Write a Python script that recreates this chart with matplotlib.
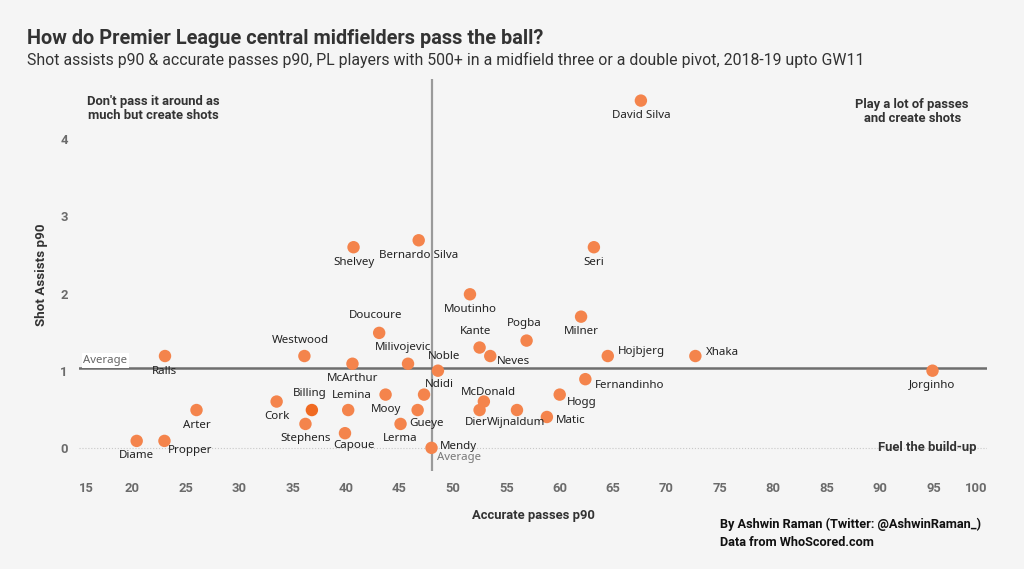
import matplotlib.pyplot as plt

players = ['David Silva', 'Bernardo Silva', 'Shelvey', 'Seri', 'Moutinho', 'Milner',
           'Doucoure', 'Pogba', 'Kante', 'Neves', 'Hojbjerg', 'Xhaka', 'Westwood',
           'Ralls', 'McArthur', 'Milivojevic', 'Noble', 'Jorginho', 'Fernandinho',
           'Ndidi', 'Mooy', 'Hogg', 'McDonald', 'Cork', 'Billing', 'Arter', 'Lemina',
           'Gueye', 'Dier', 'Wijnaldum', 'Matic', 'Lerma', 'Stephens', 'Capoue',
           'Diame', 'Propper', 'Mendy']
passes = [67.6, 46.8, 40.7, 63.2, 51.6, 62.0,
          43.1, 56.9, 52.5, 53.5, 64.5, 72.7, 36.1,
          23.05, 40.6, 45.8, 48.6, 94.9, 62.4,
          47.3, 43.7, 60.0, 52.9, 33.5, 36.8, 26.0, 40.2,
          46.7, 52.5, 56.0, 58.8, 45.1, 36.2, 39.9,
          20.4, 23.0, 48.0]
shot_assists = [4.50, 2.69, 2.60, 2.60, 1.99, 1.70,
                1.49, 1.39, 1.30, 1.19, 1.19, 1.19, 1.19,
                1.19, 1.09, 1.09, 1.00, 1.00, 0.89,
                0.69, 0.69, 0.69, 0.60, 0.60, 0.49, 0.49, 0.49,
                0.49, 0.49, 0.49, 0.40, 0.31, 0.31, 0.19,
                0.09, 0.09, 0.0]
avg_passes = 48.08
avg_shot_assists = 1.03

# label offsets in pixels (dx, dy) and horizontal alignment
below = (0, -15, 'center')
offsets = {
    'Doucoure': (-4, 17, 'center'), 'Pogba': (-2, 17, 'center'), 'Kante': (-4, 16, 'center'),
    'Neves': (7, -5, 'left'), 'Hojbjerg': (10, 5, 'left'), 'Xhaka': (11, 4, 'left'),
    'Westwood': (-4, 16, 'center'), 'Milivojevic': (-5, 16, 'center'), 'Noble': (6, 14, 'center'),
    'Fernandinho': (10, -6, 'left'), 'Ndidi': (1, 10, 'left'), 'Lemina': (4, 15, 'center'),
    'Hogg': (7, -8, 'left'), 'McDonald': (5, 9, 'center'), 'Billing': (-2, 17, 'center'),
    'Gueye': (-8, -13, 'left'), 'Dier': (-3, -12, 'center'), 'Wijnaldum': (-1, -12, 'center'),
    'Matic': (9, -4, 'left'), 'Capoue': (9, -12, 'center'), 'Propper': (3, -10, 'left'),
    'Mendy': (8, 1, 'left'),
}

bg = '#f5f5f5'
dot = '#f4844c'
dark = '#333333'

fig = plt.figure(figsize=(10.24, 5.69), dpi=100, facecolor=bg)
ax = fig.add_axes([79 / 1024, 1 - 471 / 569, 908 / 1024, 392 / 569], facecolor=bg)

ax.set_xlim(15, 100)
ax.set_ylim(-0.3, 4.78)

ax.axhline(0, color='#c8c8c8', lw=0.8, ls=':', zorder=1)
ax.axvline(avg_passes, color='#9a9a9a', lw=1.6, zorder=1)
ax.axhline(avg_shot_assists, color='#6e6e6e', lw=1.8, zorder=1)

colors = ['#f06a22' if p == 'Billing' else dot for p in players]
ax.scatter(passes, shot_assists, s=80, c=colors, edgecolors='none', zorder=3)

for name, x, y in zip(players, passes, shot_assists):
    dx, dy, ha = offsets.get(name, below)
    ax.annotate(name, (x, y), xytext=(dx, dy), textcoords='offset pixels',
                ha=ha, va='center', fontsize=8.3, color='#222222',
                family='Noto Sans', zorder=4)

ax.text(15.4, avg_shot_assists + 0.03, 'Average', fontsize=8.2, color='#666666',
        family='Noto Sans', va='bottom', ha='left',
        bbox=dict(boxstyle='square,pad=0.15', fc='white', ec='none'))
ax.text(avg_passes + 0.4, -0.13, 'Average', fontsize=8.2, color='#777777',
        family='Noto Sans', va='center', ha='left')

ax.text(22.0, 4.40, "Don't pass it around as\nmuch but create shots", ha='center', va='center',
        fontsize=9.4, fontweight='bold', color=dark, family='Roboto', linespacing=1.1)
ax.text(93.0, 4.36, 'Play a lot of passes\nand create shots', ha='center', va='center',
        fontsize=9.4, fontweight='bold', color=dark, family='Roboto', linespacing=1.1)
ax.text(94.4, 0.01, 'Fuel the build-up', ha='center', va='center',
        fontsize=9.4, fontweight='bold', color=dark, family='Roboto')

ax.set_xticks(range(15, 101, 5))
ax.set_yticks([0, 1, 2, 3, 4])
ax.tick_params(length=0, labelsize=9.4, labelcolor='#6b6b6b', pad=8)
for lab in ax.get_xticklabels() + ax.get_yticklabels():
    lab.set_fontweight('bold')
    lab.set_family('Roboto')
xl = ax.get_xticklabels()
xl[0].set_horizontalalignment('left')
xl[-1].set_horizontalalignment('right')
for s in ax.spines.values():
    s.set_visible(False)

ax.set_xlabel('Accurate passes p90', fontsize=9.4, fontweight='bold', color=dark,
              family='Roboto', labelpad=10)
ax.set_ylabel('Shot Assists p90', fontsize=9.6, fontweight='bold', color=dark,
              family='Roboto', labelpad=9)

fig.text(27 / 1024, 1 - 39 / 569, 'How do Premier League central midfielders pass the ball?',
         fontsize=14.3, fontweight='bold', color=dark, family='Roboto', va='center')
fig.text(27 / 1024, 1 - 60 / 569,
         'Shot assists p90 & accurate passes p90, PL players with 500+ in a midfield three or a double pivot, 2018-19 upto GW11',
         fontsize=11.4, color=dark, family='Roboto', va='center')
fig.text(720 / 1024, 1 - 524 / 569, 'By Ashwin Raman (Twitter: @AshwinRaman_)',
         fontsize=9.2, fontweight='bold', color='#111111', family='Roboto', va='center')
fig.text(720 / 1024, 1 - 542 / 569, 'Data from WhoScored.com',
         fontsize=9.2, fontweight='bold', color='#111111', family='Roboto', va='center')

fig.savefig('out.png', dpi=100, facecolor=bg)
